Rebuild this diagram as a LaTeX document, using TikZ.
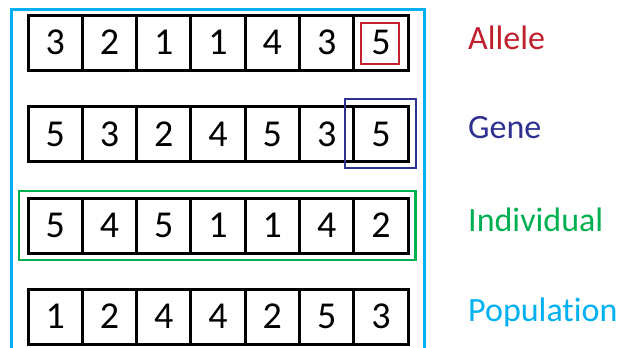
\documentclass[tikz,border=0pt]{standalone}
\usepackage{fontspec}
\setmainfont[Ligatures=NoCommon]{Carlito}
\definecolor{allelered}{HTML}{C0202E}
\definecolor{genenavy}{HTML}{2E3192}
\definecolor{indgreen}{HTML}{00B050}
\definecolor{popblue}{HTML}{00B0F0}
\begin{document}
\begin{tikzpicture}[x=1pt,y=-1pt,
  cell/.style={draw=black,line width=3pt,minimum width=54.3pt,minimum height=55pt,inner sep=0pt,
    font=\fontsize{38}{38}\selectfont},
  lbl/.style={anchor=west,inner sep=0pt,font=\fontsize{34}{34}\selectfont}]
\useasboundingbox (0,0) rectangle (619,348);
% population frame
\draw[popblue,line width=3pt] (11,348) -- (11,9) -- (424,9) -- (424,348);
% rows
\foreach \r/\ytop/\vals in {1/15/{3,2,1,1,4,3,5},2/106.5/{5,3,2,4,5,3,5},3/198/{5,4,5,1,1,4,2},4/289/{1,2,4,4,2,5,3}}{
  \foreach \v [count=\i] in \vals {
    \node[cell] (r\r c\i) at ({28+54.3*(\i-0.5)},{\ytop+27.5}) {\v};
  }
}
% highlight boxes
\draw[allelered,line width=2.2pt] (361,23) rectangle (399,64);
\draw[genenavy,line width=2.6pt] (345,99) rectangle (416,168);
\draw[indgreen,line width=2.6pt] (19,191) rectangle (415.5,260);
% labels
\node[lbl,text=allelered] (allele) at (468,37.5) {Allele};
\node[lbl,text=genenavy] (gene) at (468,127.5) {Gene};
\node[lbl,text=indgreen] (indiv) at (468,219.5) {Individual};
\node[lbl,text=popblue] (pop) at (468,312) {Populat\kern0pt ion};
\end{tikzpicture}
\end{document}
